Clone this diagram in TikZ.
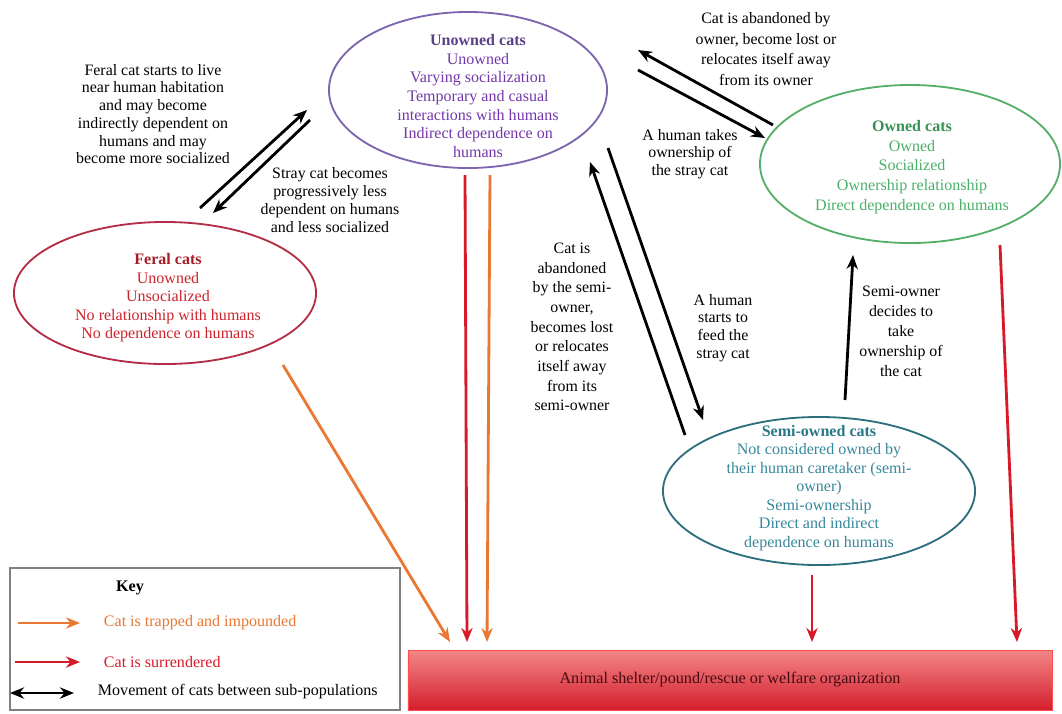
\documentclass[tikz,border=0pt]{standalone}
\usepackage{fontspec}
\setmainfont{Liberation Serif}
\usetikzlibrary{shapes.geometric,arrows.meta}

\definecolor{unownedline}{RGB}{125,100,175}
\definecolor{unownedtext}{RGB}{115,55,170}
\definecolor{unownedtitle}{RGB}{90,65,135}
\definecolor{feralline}{RGB}{180,45,70}
\definecolor{feraltext}{RGB}{205,35,45}
\definecolor{feraltitle}{RGB}{165,30,40}
\definecolor{ownedline}{RGB}{85,175,105}
\definecolor{ownedtext}{RGB}{75,175,105}
\definecolor{ownedtitle}{RGB}{55,145,85}
\definecolor{semiline}{RGB}{45,110,125}
\definecolor{semitext}{RGB}{55,135,155}
\definecolor{semititle}{RGB}{40,120,135}
\definecolor{trapcol}{RGB}{232,120,50}
\definecolor{surrcol}{RGB}{215,25,40}

\begin{document}
\begin{tikzpicture}[x=0.025cm, y=-0.025cm,
  >={Stealth[length=10pt,width=8pt]},
  pop/.style={draw=#1, ellipse, line width=1.3pt, inner sep=0pt},
  poptext/.style={text=#1, align=center, font=\fontsize{11.4}{13.2}\selectfont},
  note/.style={align=center, font=\fontsize{11.3}{12.6}\selectfont},
  move/.style={->, line width=2pt},
  trap/.style={->, line width=2pt, draw=trapcol},
  surr/.style={->, line width=2pt, draw=surrcol}]
  \useasboundingbox (0,0) rectangle (1062,713);

  % sub-populations
  \node[pop=unownedline, minimum width=6.95cm, minimum height=3.9cm] (unowned) at (468,90) {};
  \node[poptext=unownedtext] (unownedtxt) at (478,96)
    {\textbf{\color{unownedtitle}Unowned cats}\\Unowned\\Varying socialization\\Temporary and casual\\interactions with humans\\Indirect dependence on\\humans};

  \node[pop=feralline, minimum width=7.55cm, minimum height=3.55cm] (feral) at (165,293) {};
  \node[poptext=feraltext] (feraltxt) at (168,298)
    {\textbf{\color{feraltitle}Feral cats}\\Unowned\\Unsocialized\\No relationship with humans\\No dependence on humans};

  \node[pop=ownedline, minimum width=7.5cm, minimum height=3.95cm] (owned) at (910,164) {};
  \node[poptext=ownedtext, font=\fontsize{11.4}{14}\selectfont] (ownedtxt) at (912,167)
    {\textbf{\color{ownedtitle}Owned cats}\\Owned\\Socialized\\Ownership relationship\\Direct dependence on humans};

  \node[pop=semiline, minimum width=7.8cm, minimum height=3.7cm] (semi) at (819,491) {};
  \node[poptext=semitext] (semitxt) at (819,488)
    {\textbf{\color{semititle}Semi-owned cats}\\Not considered owned by\\their human caretaker (semi-\\owner)\\Semi-ownership\\Direct and indirect\\dependence on humans};

  \node[draw=red!70, line width=0.6pt, top color={rgb,255:red,242;green,135;blue,135},
    bottom color={rgb,255:red,212;green,30;blue,45}, minimum width=16.1cm, minimum height=1.5cm,
    font=\fontsize{11.5}{12}\selectfont, text={rgb,255:red,70;green,10;blue,20}] (shelter) at (730,680)
    {Animal shelter/pound/rescue or welfare organization};

  % movement between sub-populations
  \coordinate (fu1) at (200,208);
  \coordinate (fu2) at (307,110);
  \coordinate (uf1) at (310,120);
  \coordinate (uf2) at (213,213);
  \coordinate (ou1) at (773,125);
  \coordinate (ou2) at (638,50);
  \coordinate (uo1) at (638,70);
  \coordinate (uo2) at (765,138);
  \coordinate (su1) at (685,435);
  \coordinate (su2) at (590,162);
  \coordinate (us1) at (608,148);
  \coordinate (us2) at (703,420);
  \coordinate (so1) at (845,400);
  \coordinate (so2) at (853,255);

  \draw[move] (fu1) -- (fu2);
  \draw[move] (uf1) -- (uf2);
  \draw[move] (ou1) -- (ou2);
  \draw[move] (uo1) -- (uo2);
  \draw[move] (su1) -- (su2);
  \draw[move] (us1) -- (us2);
  \draw[move] (so1) -- (so2);

  \node[note] (fulab) at (153,114) {Feral cat starts to live\\near human habitation\\and may become\\indirectly dependent on\\humans and may\\become more socialized};
  \node[note] (uflab) at (330,200) {Stray cat becomes\\progressively less\\dependent on humans\\and less socialized};
  \node[note, font=\fontsize{11.3}{14.6}\selectfont] (oulab) at (766,49) {Cat is abandoned by\\owner, become lost or\\relocates itself away\\from its owner};
  \node[note] (uolab) at (690,154) {A human takes\\ownership of\\the stray cat};
  \node[note, font=\fontsize{11.3}{14}\selectfont] (sulab) at (572,327) {Cat is\\abandoned\\by the semi-\\owner,\\becomes lost\\or relocates\\itself away\\from its\\semi-owner};
  \node[note] (uslab) at (723,328) {A human\\starts to\\feed the\\stray cat};
  \node[note, font=\fontsize{11.3}{14.2}\selectfont] (solab) at (901,331) {Semi-owner\\decides to\\take\\ownership of\\the cat};

  % to the shelter
  \coordinate (ur1) at (465,175);
  \coordinate (ur2) at (467,642);
  \coordinate (ut1) at (490,175);
  \coordinate (ut2) at (487,642);
  \coordinate (ft1) at (283,365);
  \coordinate (ft2) at (450,642);
  \coordinate (sr1) at (812,575);
  \coordinate (sr2) at (812,642);
  \coordinate (or1) at (1000,245);
  \coordinate (or2) at (1017,642);

  \draw[surr] (ur1) -- (ur2);
  \draw[trap] (ut1) -- (ut2);
  \draw[trap] (ft1) -- (ft2);
  \draw[surr] (sr1) -- (sr2);
  \draw[surr] (or1) -- (or2);

  % key
  \node[draw=gray, line width=0.8pt, minimum width=9.75cm, minimum height=3.55cm, inner sep=0pt] (key) at (205,639) {};
  \node[font=\bfseries\fontsize{11.5}{12}\selectfont] (keytitle) at (130,588) {Key};
  \coordinate (k1a) at (18,623);
  \coordinate (k1b) at (80,623);
  \coordinate (k2a) at (15,662);
  \coordinate (k2b) at (80,662);
  \coordinate (k3a) at (10,693);
  \coordinate (k3b) at (74,693);
  \draw[trap] (k1a) -- (k1b);
  \draw[surr] (k2a) -- (k2b);
  \draw[move, <->] (k3a) -- (k3b);
  \node[anchor=west, text=trapcol, font=\fontsize{11.4}{12}\selectfont] (keytrap) at (99,623) {Cat is trapped and impounded};
  \node[anchor=west, text=surrcol, font=\fontsize{11.4}{12}\selectfont] (keysurr) at (99,662) {Cat is surrendered};
  \node[anchor=west, font=\fontsize{11.4}{12}\selectfont] (keymove) at (93,692) {Movement of cats between sub-populations};
\end{tikzpicture}
\end{document}
